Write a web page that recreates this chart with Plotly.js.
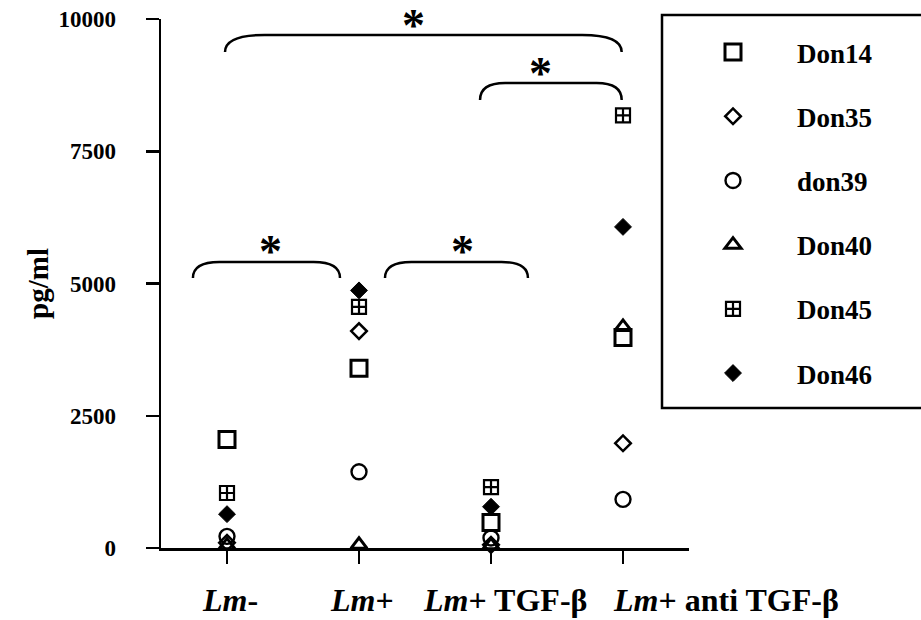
<!DOCTYPE html>
<html>
<head>
<meta charset="utf-8">
<script src="https://cdn.plot.ly/plotly-3.0.1.min.js"></script>
<style>
  html, body { margin: 0; padding: 0; background: #fff; }
  #chart { width: 921px; height: 620px; }
</style>
</head>
<body>
<div id="chart"></div>
<script>
// Treatment groups along the x axis
const groups = ['Lm-', 'Lm+', 'Lm+ TGF-β', 'Lm+ anti TGF-β'];
const groupLabels = ['<i>Lm</i>-', '<i>Lm</i>+', '<i>Lm</i>+ TGF-β', '<i>Lm</i>+ anti TGF-β'];

// Donor names
const donors = ['Don14', 'Don35', 'don39', 'Don40', 'Don45', 'Don46'];

// Cytokine concentration (pg/ml) per donor, one value per group
const don14 = [2050, 3400, 480, 3980];
const don35 = [100, 4100, 60, 1980];
const don39 = [220, 1440, 190, 920];
const don40 = [50, 60, 50, 4180];
const don45 = [1040, 4560, 1150, 8180];
const don46 = [640, 4870, 780, 6070];

// y axis ticks
const yTicks = [0, 2500, 5000, 7500, 10000];

const W = 921, H = 620;
const px = v => v / W;          // page pixel -> paper x
const py = v => 1 - v / H;      // page pixel -> paper y

const xIdx = groups.map((_, i) => i);
const series = [don14, don35, don39, don40, don45, don46];
const symbols = ['square-open', 'diamond-open', 'circle-open', 'triangle-up-open', 'square-cross-open', 'diamond'];
const sizes = [16, 12, 15, 14, 14, 13];
const widths = [3, 2.5, 2.4, 3, 2.2, 1];

const traces = series.map((vals, k) => ({
  type: 'scatter',
  mode: 'markers',
  name: donors[k],
  legendgroup: donors[k],
  x: xIdx,
  y: vals,
  cliponaxis: false,
  hoverinfo: 'skip',
  marker: {
    symbol: symbols[k],
    size: sizes[k],
    color: 'black',
    line: { color: 'black', width: widths[k] }
  }
}));

// Significance brackets: curly ends, drawn in data coordinates
function bracket(x0, x1, yEnd, yTop, dx) {
  return {
    type: 'path', xref: 'x', yref: 'y', layer: 'above',
    path: `M ${x0},${yEnd} Q ${x0},${yTop} ${x0 + dx},${yTop} L ${x1 - dx},${yTop} Q ${x1},${yTop} ${x1},${yEnd}`,
    line: { color: 'black', width: 2.5 }
  };
}

const shapes = [
  bracket(-0.015, 2.99, 9376, 9698, 0.3),
  bracket(1.917, 2.99, 8469, 8790, 0.19),
  bracket(-0.258, 0.856, 5104, 5406, 0.2),
  bracket(1.197, 2.28, 5104, 5406, 0.2),
  // legend frame, running past the right edge of the page
  {
    type: 'rect', xref: 'paper', yref: 'paper',
    x0: px(662), x1: px(940), y0: py(408), y1: py(15),
    line: { color: 'black', width: 2.5 }, fillcolor: 'rgba(0,0,0,0)'
  }
];

// Significance asterisks, placed in page pixels above each bracket
const star = (x, y) => ({
  x: px(x), y: py(y), xref: 'paper', yref: 'paper', text: '*', showarrow: false,
  xanchor: 'center', yanchor: 'middle',
  font: { family: 'Liberation Serif', size: 46, weight: 'bold', color: 'black' },
  yshift: -11
});

const labelShift = [3, 3, 14, 103];
const annotations = [
  star(413, 15),
  star(540, 63),
  star(270, 240),
  star(462, 240),
  ...groupLabels.map((t, i) => ({
    x: i, y: py(600), xref: 'x', yref: 'paper', text: t, showarrow: false,
    xanchor: 'center', yanchor: 'middle', xshift: labelShift[i],
    font: { family: 'Liberation Serif', size: 32, weight: 'bold', color: 'black' }
  }))
];

const layout = {
  width: W, height: H,
  margin: { l: 0, r: 0, t: 0, b: 0 },
  paper_bgcolor: 'white',
  plot_bgcolor: 'rgba(0,0,0,0)',
  font: { family: 'Liberation Serif', color: 'black' },
  showlegend: true,
  xaxis: {
    domain: [px(161), px(689)],
    range: [-0.5, 3.5],
    showline: true, linewidth: 2.5, linecolor: 'black',
    ticks: 'outside', ticklen: 13, tickwidth: 2.5, tickcolor: 'black',
    tickvals: xIdx, showticklabels: false,
    showgrid: false, zeroline: false, fixedrange: true
  },
  yaxis: {
    domain: [py(548), py(19)],
    range: [0, 10000],
    showline: true, linewidth: 2.5, linecolor: 'black',
    ticks: 'outside', ticklen: 13, tickwidth: 2.5, tickcolor: 'black',
    tickvals: yTicks, ticktext: yTicks.map(String),
    tickfont: { family: 'Liberation Serif', size: 23, weight: 'bold', color: 'black' },
    ticklabelstandoff: 25,
    showgrid: false, zeroline: false, fixedrange: true,
    title: { text: 'pg/ml', font: { family: 'Liberation Serif', size: 29, weight: 'bold', color: 'black' }, standoff: 2 }
  },
  legend: {
    x: px(669), y: py(28), xanchor: 'left', yanchor: 'top',
    bgcolor: 'rgba(0,0,0,0)', borderwidth: 0,
    font: { family: 'Liberation Serif', size: 27, weight: 'bold', color: 'black' },
    itemwidth: 118, tracegroupgap: 26.1, traceorder: 'grouped',
    itemsizing: 'trace', itemclick: false, itemdoubleclick: false
  },
  shapes: shapes,
  annotations: annotations
};

Plotly.newPlot('chart', traces, layout, { displayModeBar: false, staticPlot: true });
</script>
</body>
</html>
